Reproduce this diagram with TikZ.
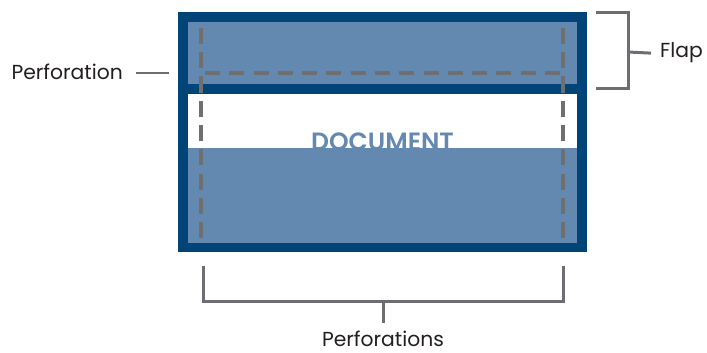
\documentclass[tikz,border=0pt]{standalone}
\usepackage{fontspec}
\setmainfont{Poppins}
\newfontfamily\docfont{Poppins SemiBold}
\usetikzlibrary{positioning}
\definecolor{envdark}{HTML}{004478}
\definecolor{envlight}{HTML}{6489B0}
\definecolor{perfgray}{HTML}{6F6F70}
\definecolor{labelgray}{HTML}{6D6E71}
\definecolor{ink}{HTML}{231F20}

\begin{document}
\begin{tikzpicture}[x=1pt,y=-1pt,
        every node/.style={inner sep=0pt, text=ink, font=\fontsize{20.3}{20.3}\selectfont},
        perf/.style={draw=perfgray, line width=4pt},
        vperf/.style={perf, dash pattern=on 16pt off 8.25pt},
        hperf/.style={perf, dash pattern=on 15pt off 9.29pt},
        bracket/.style={draw=labelgray, line width=3pt}
      ]
      \useasboundingbox (0,0) rectangle (707,353);
      % envelope, flap and window
      \fill[envdark] (178,12) rectangle (587,252);
      \fill[envlight] (188,22) rectangle (577,84);
      \fill[white] (188,94) rectangle (577,148);
      \fill[envlight] (188,148) rectangle (577,243);
      \begin{scope}
        \clip (188,94) rectangle (577,148);
        \node (doc) [anchor=base, text=envlight, font=\fontsize{25}{25}\docfont] at (382.5,150) {DOCUMENT};
      \end{scope}
      % perforations
      \draw[vperf] (201,28) -- (201,238);
      \draw[vperf] (563,28) -- (563,238);
      \draw[hperf] (205,73) -- (560,73);
      % flap bracket
      \node (flap) [anchor=base west] at (660,58) {Flap};
      \coordinate (f1) at (596,13);
      \coordinate (f2) at (596,89);
      \coordinate (fm) at (628,52);
      \draw[bracket] (f1) -| (fm) |- (f2);
      \draw[bracket] (fm) -- (flap.west -| 651,0);
      % perforation label on the left
      \node (perf) [anchor=base east] at (123,80) {Perforation};
      \coordinate (p1) at (169,73);
      \draw[bracket, line width=2pt] (perf.east |- p1) ++(13,0) -- (p1);
      % bottom bracket
      \node (perfs) [anchor=base, text depth=0pt] at (383,346) {Perforations};
      \coordinate (b1) at (203,266);
      \coordinate (b2) at (563,266);
      \coordinate (bm) at (383,301);
      \draw[bracket] (b1) |- (bm) -| (b2);
      \draw[bracket] (bm) -- (383,323);
\end{tikzpicture}
\end{document}
